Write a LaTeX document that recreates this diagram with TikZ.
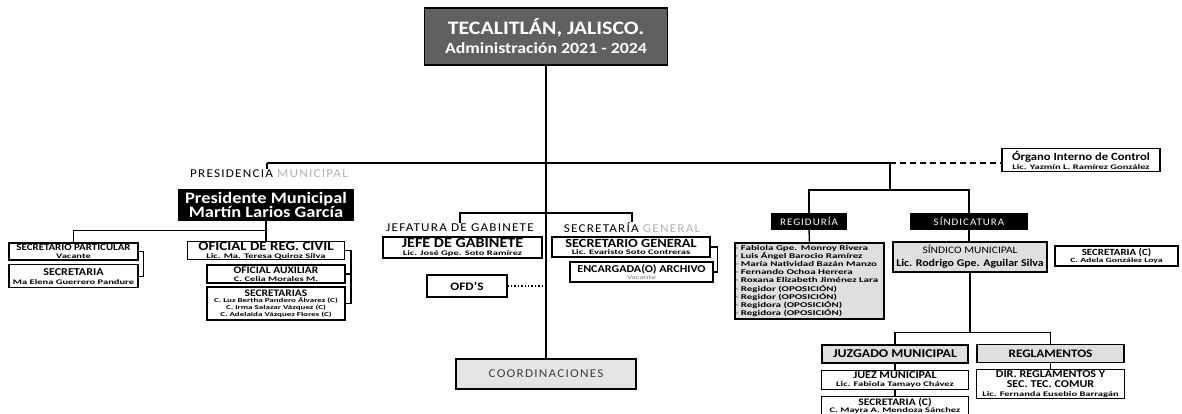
\documentclass[tikz,border=0pt]{standalone}
\usepackage{fontspec}
\setmainfont{Carlito}[FakeStretch=1.15]
\newfontfamily\espaciada{Carlito}[LetterSpace=10,FakeStretch=1.1]
\newfontfamily\estirada{Carlito}[FakeStretch=1.5]
\usetikzlibrary{positioning}
\tikzset{unit/.style={draw,line width=1.3pt,align=center,inner sep=0.5pt,fill=white,font=\bfseries\fontsize{6}{7.5}\selectfont}}
\tikzset{dark unit/.style={unit,fill=black,text=white}}
\tikzset{grey unit/.style={unit,fill=gray!25}}
\tikzset{tag/.style={inner sep=1pt,font=\espaciada\fontsize{12}{13}\selectfont}}
\tikzset{link/.style={line width=1.4pt}}
\newcommand{\cargo}[2][10]{{\fontsize{#1}{#1}\selectfont #2}}
\newcommand{\nombre}[2][7]{{\estirada\bfseries\fontsize{#1}{#1}\selectfont #2}}

\begin{document}
\begin{tikzpicture}[x=1pt,y=-1pt]
    \useasboundingbox (0,0) rectangle (1182,413);
    \node[unit,fill=gray!75!black,text=white,minimum width=243pt,minimum height=57pt,font=\bfseries\fontsize{15.5}{19}\selectfont] (titulo) at (546,36.5) {\cargo[19]{TECALITLÁN, JALISCO.}\\Administración 2021 - 2024};
    \coordinate (izq) at (267,163);
    \coordinate (der) at (890,163);
    \node[unit,fill=gray!20,text=black!75,minimum width=180pt,minimum height=30pt,font=\espaciada\fontsize{12}{12}\selectfont] (coord) at (546,374) {COORDINACIONES};
    \node[unit,minimum width=158pt,minimum height=23pt,font=\bfseries\fontsize{6}{9}\selectfont] (organo) at (1081,160) {\cargo[11]{Órgano Interno de Control}\\\nombre{Lic. Yazmín L. Ramírez González}};

    % presidencia
    \node[tag] (presL) at (269,174) {PRESIDENCIA \textcolor{gray!60}{MUNICIPAL}};
    \node[dark unit,minimum width=174pt,minimum height=30pt,font=\bfseries\fontsize{16}{14}\selectfont] (pres) at (266,205) {Presidente Municipal\\Martín Larios García};
    \node[unit,minimum width=129pt,minimum height=17pt] (sp) at (73.5,251.5) {\cargo[9.5]{SECRETARIO PARTICULAR}\\\nombre{Vacante}};
    \node[unit,minimum width=129pt,minimum height=23pt,font=\bfseries\fontsize{6}{9}\selectfont] (secP) [below=3.5pt of sp] {\cargo[10.5]{SECRETARIA}\\\nombre{Ma Elena Guerrero Pandure}};
    \node[unit,minimum width=157pt,minimum height=17pt] (oficial) at (266,250.5) {\cargo[13]{OFICIAL DE REG. CIVIL}\\\nombre{Lic. Ma. Teresa Quiroz Silva}};
    \node[unit,minimum width=138pt,minimum height=18pt] (aux) at (276,274) {\cargo[10]{OFICIAL AUXILIAR}\\\nombre{C. Celia Morales M.}};
    \node[unit,minimum width=138pt,minimum height=33pt,font=\bfseries\fontsize{6}{6.8}\selectfont] (secs) at (276,303.5) {\cargo[10]{SECRETARIAS}\\\nombre[6]{C. Luz Bertha Pandero Álvarez (C)}\\\nombre[6]{C. Irma Salazar Vázquez (C)}\\\nombre[6]{C. Adelaida Vázquez Flores (C)}};

    % gabinete
    \node[tag] (jefL) at (460,228) {JEFATURA DE GABINETE};
    \node[tag] (secL) at (632,228) {SECRETARÍA \textcolor{gray!60}{GENERAL}};
    \node[unit,minimum width=159pt,minimum height=21pt] (jefe) at (462.5,247.5) {\cargo[14]{JEFE DE GABINETE}\\\nombre{Lic. José Gpe. Soto Ramírez}};
    \node[unit,minimum width=158pt,minimum height=20pt] (sg) at (631,247) {\cargo[12.5]{SECRETARIO GENERAL}\\\nombre{Lic. Evaristo Soto Contreras}};
    \node[unit,minimum width=143pt,minimum height=20pt] (archivo) at (641.5,272) {\cargo[10.5]{ENCARGADA(O) ARCHIVO}\\\nombre[6]{\mdseries\color{gray}Vacante}};
    \node[unit,minimum width=80pt,minimum height=22pt] (ofd) at (467,286) {\cargo[11.5]{OFD'S}};

    % regiduria y sindicatura
    \node[dark unit,minimum width=75pt,minimum height=15pt,font=\espaciada\fontsize{10}{10}\selectfont] (reg) at (809,221.5) {REGIDURÍA};
    \node[dark unit,minimum width=116pt,minimum height=15pt,font=\espaciada\fontsize{10}{10}\selectfont] (sind) at (969,221.5) {SÍNDICATURA};
    \node[grey unit,minimum height=76pt,text width=148pt,align=left,font=\estirada\bfseries\fontsize{7.3}{8.1}\selectfont] (regs) at (809.5,281) {\textcolor{gray}{·} Fabiola Gpe. Monroy Rivera\\\textcolor{gray}{·} Luis Ángel Barocio Ramírez\\\textcolor{gray}{·} María Natividad Bazán Manzo\\\textcolor{gray}{·} Fernando Ochoa Herrera\\\textcolor{gray}{·} Roxana Elizabeth Jiménez Lara\\\textcolor{gray}{·} Regidor (OPOSICIÓN)\\\textcolor{gray}{·} Regidor (OPOSICIÓN)\\\textcolor{gray}{·} Regidora (OPOSICIÓN)\\\textcolor{gray}{·} Regidora (OPOSICIÓN)};
    \node[grey unit,minimum width=154pt,minimum height=30pt,font=\bfseries\fontsize{10.3}{13}\selectfont] (sm) at (970,257) {\cargo[10]{\mdseries SÍNDICO MUNICIPAL}\\Lic. Rodrigo Gpe. Aguilar Silva};
    \node[unit,minimum width=123pt,minimum height=20pt] (secC) at (1116.5,256) {\cargo[9.5]{SECRETARIA (C)}\\\nombre[6.5]{C. Adela González Loya}};
    \node[grey unit,minimum width=146pt,minimum height=18pt,font=\bfseries\fontsize{12}{12}\selectfont] (juz) at (895,354) {JUZGADO MUNICIPAL};
    \node[grey unit,minimum width=147pt,minimum height=18pt,font=\bfseries\fontsize{11.5}{11.5}\selectfont] (regl) at (1050.5,353.5) {REGLAMENTOS};
    \node[unit,minimum width=147pt,minimum height=19pt] (juez) [below=6pt of juz] {\cargo[10.5]{JUEZ MUNICIPAL}\\\nombre{Lic. Fabiola Tamayo Chávez}};
    \node[unit,minimum width=147pt,minimum height=18pt] (sec2) [below=6pt of juez] {\cargo[10]{SECRETARIA (C)}\\\nombre{C. Mayra A. Mendoza Sánchez}};
    \node[unit,minimum width=148pt,minimum height=29pt,font=\bfseries\fontsize{6}{9.5}\selectfont] (dir) [below=6pt of regl] {\cargo[10.5]{DIR. REGLAMENTOS Y}\\\cargo[10.5]{SEC. TEC. COMUR}\\\nombre{Lic. Fernanda Eusebio Barragán}};

    % lineas
    \draw[link] (titulo.south) -- (titulo.south |- coord.north);
    \draw[link] (izq) -- (der);
    \draw[link,dash pattern=on 6pt off 4pt] (der) -- (der -| organo.west);
    \draw[link] (izq) -- (izq |- presL.north);
    \draw[link] (pres.south) -- ++(0,10) -| (sp.north);
    \draw[link] (pres.south) -- (oficial.north);
    \draw[link] (sp.east) -- ++(5,0) |- (secP.east);
    \draw[link] (oficial.east) -- ++(6,0) coordinate (corte) |- (secs.east);
    \draw[link] (aux.east) -- (aux.east -| corte);
    \draw[link] (jefL.north) -- ++(0,-10) -| (secL.north);
    \draw[link] (sg.east) -- ++(7,0) |- (archivo.east);
    \draw[link,dotted] (ofd.east) -- (ofd.east -| titulo.south);
    \draw[link] (der) -- ++(0,27) coordinate (rama);
    \draw[link] (reg.north) |- (rama) -| (sind.north);
    \draw[link] (reg.south) -- (regs.north);
    \draw[link] (sind.south) -- (sind.south |- sm.north);
    \draw[link] (sm.south) -- ++(0,60) coordinate (ramaJ);
    \draw[link] (juz.north) |- (ramaJ) -| (regl.north);
    \draw[link] (juz.south) -- (juez.north);
    \draw[link] (juez.south) -- (sec2.north);
    \draw[link] (regl.south) -- (dir.north);
\end{tikzpicture}
\end{document}
